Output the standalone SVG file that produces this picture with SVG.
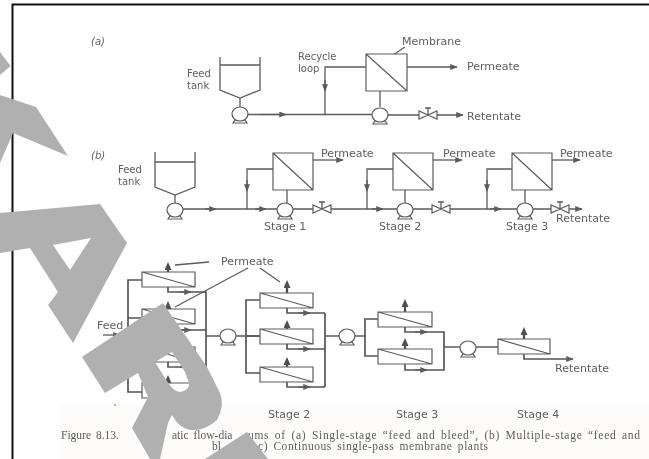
<svg xmlns="http://www.w3.org/2000/svg" width="649" height="459" viewBox="0 0 649 459">
<style>
.l{fill:none;stroke:#5c5c5c;stroke-width:1.3}
.h{fill:none;stroke:#555;stroke-width:1.7}
.p{fill:none;stroke:#505050;stroke-width:2.3}
.b{fill:#fff;stroke:#5c5c5c;stroke-width:1.2}
.t{font-family:"DejaVu Sans",sans-serif;font-size:11px;fill:#5e5e5e}
.s{font-family:"DejaVu Sans",sans-serif;font-size:10px;fill:#5e5e5e}
.i{font-family:"DejaVu Sans",sans-serif;font-size:10px;fill:#5e5e5e;font-style:italic}
.c{font-family:"Liberation Serif",serif;font-size:11.500px;fill:#5c5c5c;word-spacing:2px}
.w{fill:#b0b0b0}
</style>
<defs>
<filter id="soft" x="0" y="0" width="1" height="1"><feGaussianBlur stdDeviation="0.35"/></filter>
<marker id="a" viewBox="0 0 10 8" refX="9" refY="4" markerWidth="9" markerHeight="6" markerUnits="userSpaceOnUse" orient="auto"><path d="M0 0L10 4L0 8Z" fill="#5c5c5c"/></marker>
<marker id="u" viewBox="0 0 8 7" refX="3" refY="3.500" markerWidth="8" markerHeight="7" markerUnits="userSpaceOnUse" orient="auto"><path d="M0 0L8 3.500L0 7Z" fill="#505050"/></marker>
<g id="pump"><path class="b" d="M-5 6L-7 9H7L5 6Z"/><ellipse class="b" cx="0" cy="0" rx="8" ry="7"/></g>
<g id="valve"><path class="l" d="M0 0V-7M-3-7H3"/><path class="b" d="M-9-4V4L0 0ZM9-4V4L0 0Z"/></g>
</defs>
<rect width="649" height="459" fill="#fff"/>
<rect x="60" y="405" width="589" height="54" fill="#fdfcfb"/>
<g filter="url(#soft)">
<g id="connectors">
<!-- a -->
<path class="l" d="M240 98V107M247 114.500H372M388 115H419M437 115H463" marker-end="url(#a)"/>
<path class="l" d="M260 114.500H286" marker-end="url(#a)"/>
<path class="l" d="M325 114V67H366M380 91V107"/>
<path class="l" d="M325 80V91" marker-end="url(#a)"/>
<path class="l" d="M407 67H457" marker-end="url(#a)"/>
<path class="l" d="M378 65L405 47"/>
<!-- b -->
<path class="l" d="M175 195V203M183 209H277M247 209V169H273M287 190V203"/>
<path class="l" d="M205 209H216" marker-end="url(#a)"/>
<path class="l" d="M255 209H266" marker-end="url(#a)"/>
<path class="l" d="M247 180V191" marker-end="url(#a)"/>
<path class="l" d="M313 160H343" marker-end="url(#a)"/>
<path class="l" d="M293 209H313M331 209H397M367 209V169H393M405 190V203"/>
<path class="l" d="M372 209H383" marker-end="url(#a)"/>
<path class="l" d="M367 180V191" marker-end="url(#a)"/>
<path class="l" d="M433 160H462" marker-end="url(#a)"/>
<path class="l" d="M413 209H432M450 209H517M487 209V169H512M525 190V203"/>
<path class="l" d="M490 209H501" marker-end="url(#a)"/>
<path class="l" d="M487 180V191" marker-end="url(#a)"/>
<path class="l" d="M552 160H580" marker-end="url(#a)"/>
<path class="l" d="M533 209H551M568 209H582" marker-end="url(#a)"/>
<!-- c leaders -->
<path class="l" d="M175 265L209 262M248 268L175 307M260 268L280 282"/>
<!-- c stage 1 -->
<path class="h" d="M142 280H128V392H142M128 318H142M128 355H142"/>
<path class="l" d="M103 335H120" marker-end="url(#a)"/>
<path class="h" d="M168 287V292H206V370M168 324V330H206M168 362V367H206"/>
<path class="l" d="M180 292H191" marker-end="url(#a)"/>
<path class="l" d="M180 330H191" marker-end="url(#a)"/>
<path class="l" d="M180 367H191" marker-end="url(#a)"/>
<path class="p" d="M168 272V267" marker-end="url(#u)"/>
<path class="p" d="M168 309V306" marker-end="url(#u)"/>
<path class="p" d="M168 383V380" marker-end="url(#u)"/>
<path class="l" d="M206 336H221M236 336H260"/>
<!-- c stage 2 -->
<path class="h" d="M260 300H246V373H260M246 336H260"/>
<path class="h" d="M287 308V313H325M287 344V349H325M287 382V387H325M325 313V387"/>
<path class="l" d="M298 313H310" marker-end="url(#a)"/>
<path class="l" d="M298 349H310" marker-end="url(#a)"/>
<path class="l" d="M298 387H310" marker-end="url(#a)"/>
<path class="p" d="M287 293V285" marker-end="url(#u)"/>
<path class="p" d="M287 329V325" marker-end="url(#u)"/>
<path class="p" d="M287 367V362" marker-end="url(#u)"/>
<path class="l" d="M325 336H340M355 336H365"/>
<!-- c stage 3 -->
<path class="h" d="M378 319H365V356H378"/>
<path class="h" d="M405 327V332H444V370H405V364"/>
<path class="l" d="M415 332H427" marker-end="url(#a)"/>
<path class="l" d="M415 370H427" marker-end="url(#a)"/>
<path class="p" d="M405 312V304" marker-end="url(#u)"/>
<path class="p" d="M405 349V343" marker-end="url(#u)"/>
<path class="l" d="M444 347H460M476 347H498"/>
<!-- c stage 4 -->
<path class="p" d="M524 339V332" marker-end="url(#u)"/>
<path class="h" d="M524 354V359H573" marker-end="url(#a)"/>
</g>
<g id="tank-a"><path class="l" d="M220 57V90L240 98L260 90V57M220 65H260"/></g>
<g id="pump-a1"><use href="#pump" x="240" y="114"/></g>
<g id="pump-a2"><use href="#pump" x="380" y="115"/></g>
<g id="valve-a"><use href="#valve" x="428" y="115"/></g>
<g id="membrane-a"><path class="b" d="M366 54H407V91H366ZM366 54L407 91"/></g>
<g id="tank-b"><path class="l" d="M155 152V187L175 195L195 187V152M155 162H195"/></g>
<g id="pump-b0"><use href="#pump" x="175" y="210"/></g>
<g id="pump-b1"><use href="#pump" x="285" y="210"/></g>
<g id="pump-b2"><use href="#pump" x="405" y="210"/></g>
<g id="pump-b3"><use href="#pump" x="525" y="210"/></g>
<g id="valve-b1"><use href="#valve" x="322" y="209"/></g>
<g id="valve-b2"><use href="#valve" x="441" y="209"/></g>
<g id="valve-b3"><use href="#valve" x="560" y="209"/></g>
<g id="membrane-b1"><path class="b" d="M273 153H313V190H273ZM273 153L313 190"/></g>
<g id="membrane-b2"><path class="b" d="M393 153H433V190H393ZM393 153L433 190"/></g>
<g id="membrane-b3"><path class="b" d="M512 153H552V190H512ZM512 153L552 190"/></g>
<g id="module-s1-1"><path class="b" d="M142 272H195V287H142ZM142 272L195 287"/></g>
<g id="module-s1-2"><path class="b" d="M142 309H195V324H142ZM142 309L195 324"/></g>
<g id="module-s1-3"><path class="b" d="M142 347H195V362H142ZM142 347L195 362"/></g>
<g id="module-s1-4"><path class="b" d="M142 383H195V398H142ZM142 383L195 398"/></g>
<g id="pump-c1"><use href="#pump" x="228" y="336"/></g>
<g id="module-s2-1"><path class="b" d="M260 293H313V308H260ZM260 293L313 308"/></g>
<g id="module-s2-2"><path class="b" d="M260 329H313V344H260ZM260 329L313 344"/></g>
<g id="module-s2-3"><path class="b" d="M260 367H313V382H260ZM260 367L313 382"/></g>
<g id="pump-c2"><use href="#pump" x="347" y="336"/></g>
<g id="module-s3-1"><path class="b" d="M378 312H432V327H378ZM378 312L432 327"/></g>
<g id="module-s3-2"><path class="b" d="M378 349H432V364H378ZM378 349L432 364"/></g>
<g id="pump-c3"><use href="#pump" x="468" y="348"/></g>
<g id="module-s4"><path class="b" d="M498 339H550V354H498ZM498 339L550 354"/></g>
<g id="labels">
<text class="i" x="91" y="45">(a)</text>
<text class="i" x="91" y="159">(b)</text>
<text class="s" x="187" y="77">Feed</text>
<text class="s" x="187" y="89">tank</text>
<text class="s" x="298" y="60">Recycle</text>
<text class="s" x="298" y="72">loop</text>
<text class="t" x="402" y="45">Membrane</text>
<text class="t" x="467" y="70">Permeate</text>
<text class="t" x="467" y="120">Retentate</text>
<text class="s" x="118" y="173">Feed</text>
<text class="s" x="118" y="185">tank</text>
<text class="t" x="321" y="157">Permeate</text>
<text class="t" x="443" y="157">Permeate</text>
<text class="t" x="560" y="157">Permeate</text>
<text class="t" x="556" y="222">Retentate</text>
<text class="t" x="264" y="230">Stage 1</text>
<text class="t" x="379" y="230">Stage 2</text>
<text class="t" x="506" y="230">Stage 3</text>
<text class="t" x="221" y="265">Permeate</text>
<text class="t" x="97" y="329">Feed</text>
<text class="t" x="555" y="372">Retentate</text>
<text class="t" x="268" y="418">Stage 2</text>
<text class="t" x="396" y="418">Stage 3</text>
<text class="t" x="517" y="418">Stage 4</text>
<text class="c" x="61" y="439">Figure 8.13.</text>
<text class="c" x="172" y="439">atic flow-dia</text>
<text class="c" x="248" y="439" textLength="392">ums of (a) Single-stage “feed and bleed”, (b) Multiple-stage “feed and</text>
<text class="c" x="212" y="450">bl</text>
<text class="c" x="258" y="450" textLength="230">c) Continuous single-pass membrane plants</text>
</g>
</g>
<g id="frame"><path d="M649 4.500H12.500V459" fill="none" stroke="#111" stroke-width="2"/></g>
<circle cx="115" cy="405" r="1" fill="#a58be0"/>
<g id="watermark">
<path class="w" d="M0 52L10.500 66L0 75Z"/>
<path class="w" d="M0 95L36 107L68 156L13 133L0 163Z"/>
<path class="w" fill-rule="evenodd" d="M0 213L100 204L127 243L73 343L48 305L58 292L30 248L0 253ZM53 245L91 238L70 270Z"/>
<path class="w" fill-rule="evenodd" d="M82 357L163 303L207 367L220 393Q225 405 217 420Q205 431 190 430Q179 428 172 415L168 423L160 459H150L132 428L148 397L138 373L105 393ZM155 362L172 352L185 372L189 383Q190 390 180 392Q173 392 165 378Z"/>
<path class="w" d="M205 459L247 432L268 459Z"/>
</g>
</svg>
